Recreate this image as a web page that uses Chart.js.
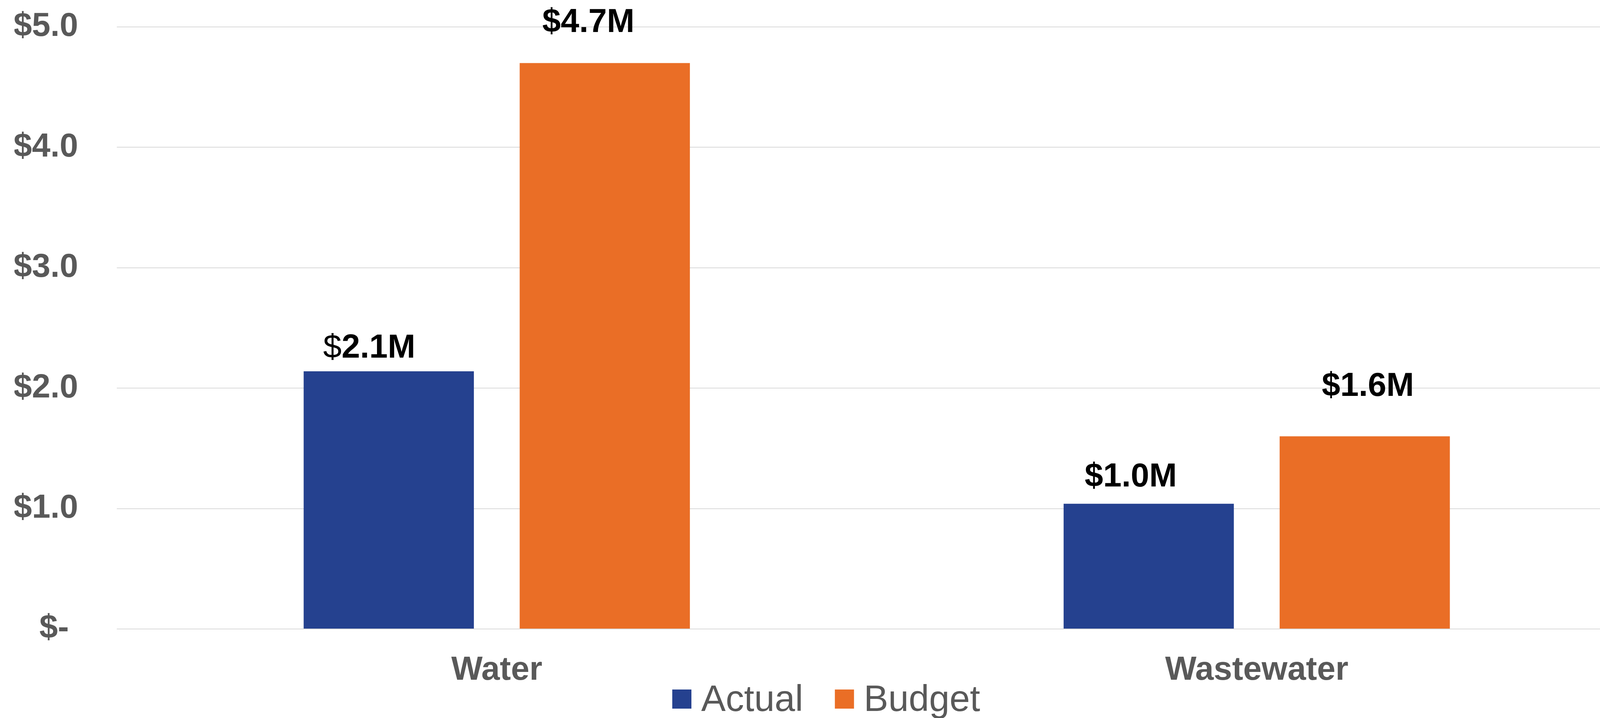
<!DOCTYPE html>
<html>
<head>
<meta charset="utf-8">
<script src="https://cdn.jsdelivr.net/npm/chart.js@4.4.0/dist/chart.umd.min.js"></script>
<style>
  html, body { margin: 0; padding: 0; background: #fff; overflow: hidden; }
  canvas { display: block; }
</style>
</head>
<body>
<canvas id="budget-chart" width="4190" height="1839"></canvas>
<script>
const categories = ['Water', 'Wastewater'];
const seriesNames = ['Actual', 'Budget'];
const actualValues = [2.14, 1.04];
const budgetValues = [4.70, 1.60];
const yTickLabels = ['$-', '$1.0', '$2.0', '$3.0', '$4.0', '$5.0'];
const seriesColors = ['#25418F', '#EA6E26'];

const FONT = "'Liberation Sans', Arial, sans-serif";
const GREY = '#595959';

// value labels above the bars, nudged like the original
const barLabels = {
    id: 'barLabels',
    afterDatasetsDraw(chart, args, opts) {
        const ctx = chart.ctx;
        ctx.save();
        ctx.fillStyle = '#000';
        ctx.textBaseline = 'alphabetic';
        ctx.textAlign = 'left';
        chart.data.datasets.forEach((ds, i) => {
            const meta = chart.getDatasetMeta(i);
            meta.data.forEach((bar, j) => {
                const off = opts.offsets[i][j];
                const dollarFont = (opts.plainDollar[i][j] ? '' : 'bold ') + opts.size + 'px ' + FONT;
                const boldFont = 'bold ' + opts.size + 'px ' + FONT;
                const rest = ds.data[j].toFixed(1) + 'M';
                ctx.font = dollarFont;
                const w1 = ctx.measureText('$').width;
                ctx.font = boldFont;
                const w2 = ctx.measureText(rest).width;
                const x = bar.x + off[0] - (w1 + w2) / 2;
                const y = bar.y - off[1];
                ctx.font = dollarFont;
                ctx.fillText('$', x, y);
                ctx.font = boldFont;
                ctx.fillText(rest, x + w1, y);
            });
        });
        ctx.restore();
    }
};

// legend under the axis: small squares with plain grey names
const squareLegend = {
    id: 'squareLegend',
    afterDraw(chart, args, opts) {
        const ctx = chart.ctx;
        ctx.save();
        ctx.font = opts.size + 'px ' + FONT;
        ctx.textBaseline = 'alphabetic';
        ctx.textAlign = 'left';
        let x = opts.left;
        chart.data.datasets.forEach(ds => {
            ctx.fillStyle = ds.backgroundColor;
            ctx.fillRect(x, opts.boxTop, opts.box, opts.box);
            x += opts.box + opts.textGap;
            ctx.fillStyle = GREY;
            ctx.fillText(ds.label, x, opts.baseline);
            x += ctx.measureText(ds.label).width + opts.itemGap;
        });
        ctx.restore();
    }
};

const ctx = document.getElementById('budget-chart').getContext('2d');

new Chart(ctx, {
    type: 'bar',
    data: {
        labels: categories,
        datasets: [
            {
                label: seriesNames[0],
                data: actualValues,
                backgroundColor: seriesColors[0],
                categoryPercentage: 0.5685,
                barPercentage: 0.788
            },
            {
                label: seriesNames[1],
                data: budgetValues,
                backgroundColor: seriesColors[1],
                categoryPercentage: 0.5685,
                barPercentage: 0.788
            }
        ]
    },
    options: {
        responsive: false,
        animation: false,
        devicePixelRatio: 1,
        layout: {
            padding: { top: 69, left: 37, right: 0, bottom: 78 }
        },
        scales: {
            x: {
                grid: { display: false },
                border: { display: false },
                ticks: {
                    color: GREY,
                    padding: 56,
                    font: { family: FONT, size: 85, weight: 'bold', lineHeight: 1 }
                },
                afterFit(scale) { scale.height = 150; }
            },
            y: {
                min: 0,
                max: 5,
                grid: { color: '#D9D9D9', lineWidth: 2, drawTicks: false },
                border: { display: false },
                ticks: {
                    stepSize: 1,
                    color: GREY,
                    padding: 99,
                    font: { family: FONT, size: 85, weight: 'bold' },
                    callback: (value, index) => index === 0 ? yTickLabels[0] + ' ' : yTickLabels[index]
                },
                afterFit(scale) {
                    scale.width = 262;
                    scale.paddingTop = 0;
                    scale.paddingBottom = 0;
                }
            }
        },
        plugins: {
            legend: { display: false },
            tooltip: { enabled: false },
            barLabels: {
                size: 85,
                offsets: [[[-50, 35], [-46, 44]], [[-42, 80], [8, 104]]],
                plainDollar: [[true, false], [false, false]]
            },
            squareLegend: {
                left: 1721,
                boxTop: 1766,
                box: 49,
                textGap: 25,
                itemGap: 81,
                baseline: 1821,
                size: 94
            }
        }
    },
    plugins: [barLabels, squareLegend]
});
</script>
</body>
</html>
